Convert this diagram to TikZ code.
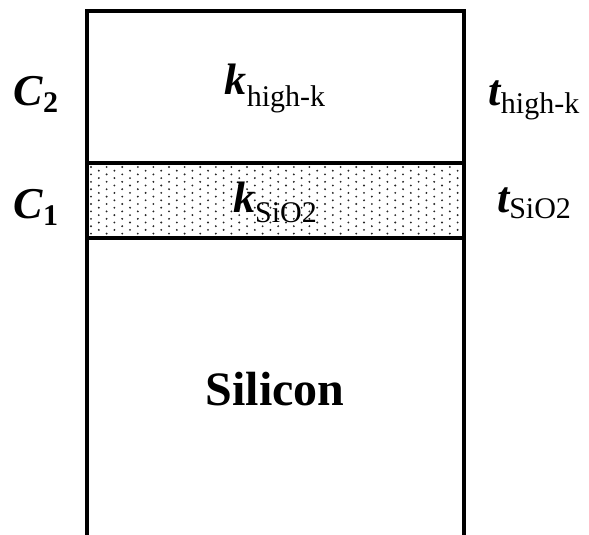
\documentclass[tikz,border=0pt]{standalone}
\usepackage{fontspec}
\setmainfont{Liberation Serif}
\newcommand{\bigsz}{\fontsize{44}{44}\selectfont}
\newcommand{\subsz}{\fontsize{30}{30}\selectfont}
\newcommand{\lbl}[3]{{\bigsz\bfseries\itshape #1}\raisebox{-#3pt}{\subsz #2}}
\begin{document}
\begin{tikzpicture}[x=1pt,y=-1pt,
  wall/.style={line width=4pt,line join=miter,line cap=butt},
  lab/.style={anchor=base,inner sep=0pt,outer sep=0pt},
  dotc/.style={fill=black!85}]
\useasboundingbox (0,0) rectangle (589,535);
% dotted SiO2 layer
\foreach \i in {0,...,47}{
  \pgfmathsetmacro{\xx}{91+7.8*\i}
  \pgfmathsetmacro{\off}{mod(\i,2)*3.7}
  \foreach \j in {0,...,9}{
    \pgfmathsetmacro{\yy}{167+\off+7.4*\j}
    \ifdim\yy pt<236pt
      \fill[dotc] (\xx,\yy) circle (1.05);
    \fi
  }
}
% frame
\draw[wall] (86.5,535) -- (86.5,11.5) -- (464,11.5) -- (464,535);
\draw[wall] (86.5,162.5) -- (464,162.5);
\draw[wall] (86.5,238) -- (464,238);
% labels
\node[lab] (c2) at (36,105) {\lbl{C}{\bfseries 2}{7}};
\node[lab] (c1) at (36,218) {\lbl{C}{\bfseries 1}{7}};
\node[lab] (khigh) at (275,95) {\lbl{k}{high-k}{12}};
\node[lab] (ksio) at (275,212) {\lbl{k}{SiO2}{10}};
\node[lab] (thigh) at (534,105) {\lbl{t}{high-k}{8}};
\node[lab] (tsio) at (534,212) {\lbl{t}{SiO2}{6}};
\node[lab] (si) at (275,405) {\fontsize{48}{48}\selectfont\bfseries Silicon};
\end{tikzpicture}
\end{document}
